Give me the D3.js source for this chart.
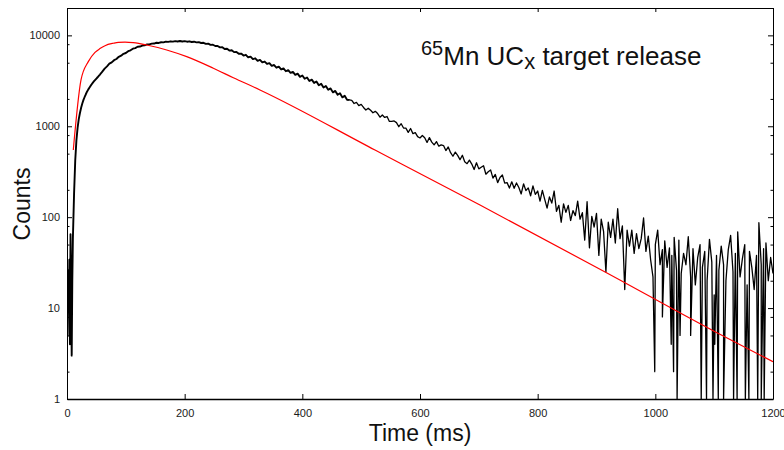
<!DOCTYPE html>
<html>
<head>
<meta charset="utf-8">
<script src="https://cdn.jsdelivr.net/npm/d3@7"></script>
<style>
  body { margin: 0; background: #fff; }
  text { font-family: "Liberation Sans", Arial, sans-serif; }
</style>
</head>
<body>
<svg id="chart" width="784" height="450"></svg>
<script>
// tick values
var xTicks = [0, 200, 400, 600, 800, 1000, 1200];
var yMajor = [1, 10, 100, 1000, 10000];
var yMinor = [2, 5, 8, 20, 50, 80, 200, 500, 800, 2000, 5000, 8000];

// measured histogram (counts per bin), read off the picture
// t = 0..10 ms, 1 ms apart
var earlyCounts = [30, 5, 26, 9, 34, 4, 65, 14, 3, 20, 58];
// t = 12..58 ms, 2 ms apart
var riseCounts = [180, 420, 700, 960, 1200, 1400, 1600, 1780, 1950, 2100, 2250, 2400,
                  2530, 2650, 2780, 2900, 3020, 3130, 3240, 3350, 3460, 3580, 3700, 3850];
// t = 60..476 ms, 4 ms apart
var bodyCounts = [
  3990, 4310, 4560, 4880, 5040, 5330, 5500, 5810, 5980, 6260,
  6400, 6700, 6850, 7140, 7240, 7490, 7530, 7730, 7780, 7950,
  7960, 8120, 8130, 8290, 8250, 8400, 8370, 8520, 8470, 8600,
  8530, 8640, 8570, 8660, 8560, 8640, 8520, 8600, 8460, 8520,
  8380, 8410, 8240, 8290, 8060, 8110, 7860, 7890, 7630, 7640,
  7380, 7420, 7080, 7130, 6800, 6860, 6540, 6580, 6270, 6300,
  6000, 6110, 5740, 5830, 5480, 5590, 5250, 5370, 5050, 5150,
  4850, 4950, 4620, 4720, 4410, 4530, 4220, 4330, 4030, 4140,
  3870, 3960, 3680, 3790, 3500, 3620, 3330, 3440, 3150, 3260,
  3000, 3110, 2830, 2930, 2670, 2770, 2520, 2610, 2360, 2450,
  2220, 2310, 2080, 2160, 1960];
// t = 480..1200 ms, 4 ms apart
var tailCounts = [
  1950, 1930, 1780, 1830, 1690, 1740, 1610, 1510, 1580, 1500,
  1410, 1460, 1380, 1260, 1330, 1250, 1280, 1130, 1135, 1145,
  1097, 989, 1067, 956, 953, 858, 946, 830, 853, 770,
  744, 792, 749, 664, 751, 669, 625, 678, 604, 624,
  614, 541, 592, 512, 468, 520, 478, 429, 480, 407,
  388, 424, 384, 335, 397, 340, 354, 368, 297, 316,
  331, 269, 295, 240, 273, 291, 237, 240, 209, 245,
  208, 238, 212, 180, 233, 196, 210, 172, 221, 178,
  194, 150, 197, 157, 126, 167, 143, 194, 116, 135,
  88, 140, 113, 135, 92, 118, 104, 150, 95, 112,
  56, 148, 46, 102, 78, 110, 38, 95, 70, 25,
  88, 60, 95, 52, 124, 58, 80, 16, 72, 48,
  72, 40, 66, 45, 58, 98, 42, 62, 34, 22,
  50, 72, 30, 44, 55, 28, 46, 38, 60, 26,
  56, 24, 40, 30, 61, 22, 45, 18, 36, 50,
  28, 42, 20, 57, 32, 14, 38, 26, 48, 30,
  20, 44, 63, 25, 40, 69, 22, 35, 50, 18,
  42, 28, 16, 38, 87, 30, 45, 52, 20, 36, 24];
// single low / empty bins in the tail
var dipTimes  = [999, 1012, 1027, 1031, 1037, 1042, 1060, 1078, 1087, 1098, 1101, 1107,
                 1116, 1133, 1139, 1153, 1159, 1174, 1180, 1185];
var dipCounts = [2, 8, 4, 2, 0, 5, 5, 0, 0, 0, 4, 0, 0, 0, 0, 0, 0, 0, 0, 0];

// release fit curve
var fitTime   = [10.7, 23.8, 36.2, 47.6, 56, 64.6, 78.7, 87.2, 98.6, 112.7, 135.5, 169.5,
                 203.5, 248.7, 282.7, 328, 523.5, 702, 917, 1101.5, 1200];
var fitCounts = [548, 3230, 5140, 6500, 7150, 7700, 8190, 8380, 8420, 8310, 7840, 6910,
                 5830, 4350, 3420, 2510, 548, 136, 24.5, 5.5, 2.57];

(function() {

var plotL = 67, plotR = 773, plotT = 8, plotB = 399;

var svg = d3.select('#chart');

var x = d3.scaleLinear().domain([0, 1200]).range([plotL, plotR]);
var y = d3.scaleLog().domain([1, 20000]).range([plotB, plotT]);

function grid(start, step, counts) {
    return counts.map(function(c, i) { return {t: start + i * step, c: c}; });
}

// smooth high-statistics part and the noisy tail, drawn as two strokes
var head = [].concat(
        grid(0, 1, earlyCounts),
        grid(12, 2, riseCounts),
        grid(60, 4, bodyCounts),
        grid(480, 4, tailCounts.slice(0, 1)));

var tail = [].concat(
        grid(476, 4, bodyCounts.slice(-1)),
        grid(480, 4, tailCounts),
        dipTimes.map(function(t, i) { return {t: t, c: dipCounts[i]}; }))
    .sort(function(a, b) { return a.t - b.t; });

var fit = fitTime.map(function(t, i) { return {t: t, c: fitCounts[i]}; });

svg.append('defs').append('clipPath').attr('id', 'plot')
    .append('rect')
    .attr('x', plotL).attr('y', plotT)
    .attr('width', plotR - plotL).attr('height', plotB - plotT);

var plot = svg.append('g').attr('clip-path', 'url(#plot)');

var histLine = d3.line()
    .x(function(d) { return x(d.t); })
    .y(function(d) { return y(Math.max(d.c, 1)); });

plot.append('path')
    .datum(head)
    .attr('fill', 'none')
    .attr('stroke', '#000')
    .attr('stroke-width', 1.9)
    .attr('stroke-linejoin', 'round')
    .attr('d', histLine);

plot.append('path')
    .datum(tail)
    .attr('fill', 'none')
    .attr('stroke', '#000')
    .attr('stroke-width', 1.3)
    .attr('stroke-linejoin', 'round')
    .attr('d', histLine);

plot.append('path')
    .datum(fit)
    .attr('fill', 'none')
    .attr('stroke', '#ff0000')
    .attr('stroke-width', 1.2)
    .attr('d', d3.line()
        .curve(d3.curveMonotoneX)
        .x(function(d) { return x(d.t); })
        .y(function(d) { return y(d.c); }));

// axes, ticks pointing inward
function style(g) {
    g.selectAll('path.domain').attr('stroke', '#000');
    g.selectAll('.tick line').attr('stroke', '#000');
    g.selectAll('.tick text').attr('font-size', 11)
        .attr('font-family', '"Liberation Sans", Arial, sans-serif').attr('fill', '#1a1a1a');
}

svg.append('g')
    .attr('transform', 'translate(0,' + plotB + ')')
    .call(d3.axisBottom(x).tickValues(xTicks).tickSize(-5).tickSizeOuter(0).tickPadding(10)
        .tickFormat(d3.format('d')))
    .call(style)
    .call(function(g) { g.select('path.domain').attr('stroke-width', 1.6); });

svg.append('g')
    .attr('transform', 'translate(0,' + plotT + ')')
    .call(d3.axisTop(x).tickValues(xTicks).tickSize(-4).tickSizeOuter(0).tickFormat(''))
    .call(style);

svg.append('g')
    .attr('transform', 'translate(' + plotL + ',0)')
    .call(d3.axisLeft(y).tickValues(yMajor).tickSize(-5).tickSizeOuter(0).tickPadding(7)
        .tickFormat(d3.format('d')))
    .call(style);

svg.append('g')
    .attr('transform', 'translate(' + plotL + ',0)')
    .call(d3.axisLeft(y).tickValues(yMinor).tickSize(-2.5).tickFormat(''))
    .call(style)
    .call(function(g) { g.select('path.domain').remove(); });

svg.append('g')
    .attr('transform', 'translate(' + plotR + ',0)')
    .call(d3.axisRight(y).tickValues(yMajor).tickSize(-5).tickSizeOuter(0).tickFormat(''))
    .call(style);

svg.append('g')
    .attr('transform', 'translate(' + plotR + ',0)')
    .call(d3.axisRight(y).tickValues(yMinor).tickSize(-2.5).tickFormat(''))
    .call(style)
    .call(function(g) { g.select('path.domain').remove(); });

// axis titles
svg.append('text')
    .attr('x', x(600)).attr('y', 441)
    .attr('text-anchor', 'middle')
    .attr('font-size', 23)
    .attr('fill', '#111')
    .text('Time (ms)');

svg.append('text')
    .attr('transform', 'translate(29.5,204)rotate(-90)')
    .attr('text-anchor', 'middle')
    .attr('font-size', 23)
    .attr('fill', '#111')
    .text('Counts');

// label inside the plot
var label = svg.append('text')
    .attr('x', 421).attr('y', 65)
    .attr('font-size', 26)
    .attr('fill', '#111');
label.append('tspan').attr('font-size', 20).attr('dy', -10).text('65');
label.append('tspan').attr('dy', 10).text('Mn UC');
label.append('tspan').attr('font-size', 22).attr('dy', 4).text('x');
label.append('tspan').attr('dy', -4).text(' target release');

})();
</script>
</body>
</html>
